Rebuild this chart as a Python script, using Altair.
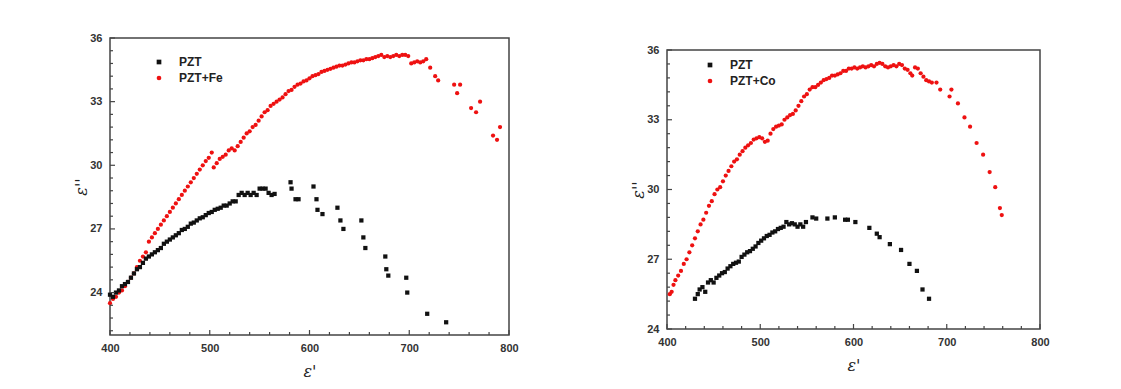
import altair as alt
import pandas as pd

# ---------------- data ----------------
fe_pzt_x = [400, 403, 406, 409, 412, 415, 418, 421, 424, 427, 430, 433, 436, 439, 442, 445, 448, 451, 454, 457,
            460, 463, 466, 469, 472, 475, 478, 481, 484, 487, 490, 493, 496, 499, 502, 505, 508, 511, 514, 517,
            520, 523, 526, 529, 532, 535, 538, 541, 544, 547, 550, 553, 556, 559, 562, 565,
            581, 582, 586, 589, 604, 607, 608, 613, 628, 631, 634, 652, 654, 656, 676, 677, 679, 697, 698, 718, 737]
fe_pzt_y = [23.9, 23.8, 24.0, 24.1, 24.3, 24.4, 24.5, 24.7, 24.9, 25.1, 25.2, 25.4, 25.6, 25.7, 25.8, 25.9, 26.0, 26.1, 26.3, 26.4,
            26.5, 26.6, 26.7, 26.8, 26.95, 27.0, 27.1, 27.25, 27.3, 27.4, 27.5, 27.55, 27.65, 27.75, 27.8, 27.9, 27.95, 28.0, 28.1, 28.1,
            28.2, 28.3, 28.3, 28.6, 28.7, 28.6, 28.7, 28.6, 28.7, 28.6, 28.9, 28.9, 28.9, 28.7, 28.6, 28.65,
            29.2, 28.9, 28.4, 28.4, 29.0, 28.4, 27.9, 27.7, 28.0, 27.4, 27.0, 27.4, 26.6, 26.1, 25.7, 25.1, 24.8, 24.7, 24.0, 23.0, 22.6]

fe_x = [400, 403, 406, 409, 412, 415, 418, 421, 424, 427, 430, 433, 436, 439, 442, 445, 448, 451, 454, 457,
        460, 463, 466, 469, 472, 475, 478, 481, 484, 487, 490, 493, 496, 499, 502, 504, 507, 510, 513, 516,
        519, 522, 525, 528, 531, 534, 537, 540, 543, 546, 549, 552, 555, 558, 561, 564, 567, 570, 573, 576,
        579, 582, 585, 588, 591, 594, 597, 600, 603, 606, 609, 612, 615, 618, 621, 624, 627, 630, 633, 636,
        639, 642, 645, 648, 651, 654, 657, 660, 663, 666, 669, 672, 675, 678, 681, 684, 687, 690, 693, 696,
        699, 702, 705, 708, 711, 714, 717,
        721, 726, 729, 745, 748, 751, 762, 767, 771, 784, 788, 791]
fe_y = [23.5, 23.7, 23.8, 24.0, 24.1, 24.3, 24.5, 24.7, 24.9, 25.2, 25.5, 25.7, 25.9, 26.4, 26.6, 26.8, 27.0, 27.2, 27.4, 27.6,
        27.8, 28.0, 28.2, 28.4, 28.6, 28.8, 29.0, 29.2, 29.4, 29.6, 29.8, 30.0, 30.2, 30.35, 30.6, 29.9, 30.1, 30.3, 30.4, 30.5,
        30.7, 30.8, 30.7, 30.9, 31.1, 31.3, 31.5, 31.6, 31.8, 31.9, 32.1, 32.3, 32.5, 32.6, 32.8, 32.9, 33.0, 33.1, 33.2, 33.35,
        33.5, 33.55, 33.7, 33.8, 33.85, 33.95, 34.0, 34.1, 34.2, 34.25, 34.3, 34.4, 34.45, 34.5, 34.55, 34.6, 34.65, 34.7, 34.7, 34.75,
        34.8, 34.85, 34.85, 34.9, 34.95, 34.95, 35.0, 35.0, 35.05, 35.1, 35.15, 35.2, 35.1, 35.15, 35.1, 35.15, 35.2, 35.15, 35.2, 35.2,
        35.15, 34.8, 34.85, 34.9, 34.85, 34.9, 35.0,
        34.6, 34.2, 34.0, 33.8, 33.4, 33.8, 32.7, 32.5, 33.0, 31.4, 31.2, 31.8]

co_pzt_x = [430, 433, 435, 438, 441, 444, 447, 450, 453, 456, 459, 462, 465, 468, 471, 474, 477, 480, 483, 486,
            489, 492, 495, 498, 501, 504, 507, 510, 513, 516, 519, 522, 525, 528, 531, 534, 537, 540, 543, 546, 549,
            556, 560, 572, 580, 591, 594, 602, 617, 625, 628, 639, 651, 660, 668, 674, 681]
co_pzt_y = [25.3, 25.5, 25.7, 25.8, 25.6, 26.0, 26.1, 26.0, 26.2, 26.3, 26.4, 26.45, 26.6, 26.7, 26.8, 26.85, 26.9, 27.1, 27.2, 27.3,
            27.35, 27.45, 27.55, 27.7, 27.8, 27.9, 28.0, 28.05, 28.15, 28.2, 28.3, 28.35, 28.4, 28.6, 28.5, 28.55, 28.5, 28.4, 28.5, 28.4, 28.6,
            28.8, 28.75, 28.75, 28.8, 28.7, 28.7, 28.6, 28.35, 28.1, 27.95, 27.65, 27.4, 26.8, 26.5, 25.7, 25.3]

co_x = [403, 405, 407, 409, 412, 415, 418, 421, 424, 427, 430, 433, 436, 439, 442, 445, 448, 451, 454, 457,
        460, 463, 466, 469, 472, 475, 478, 481, 484, 487, 490, 493, 496, 499, 502, 505, 508, 511, 514, 517,
        520, 523, 526, 529, 532, 535, 538, 541, 544, 547, 550, 553, 556, 559, 562, 565, 568, 571, 574, 577,
        580, 583, 586, 589, 592, 595, 598, 601, 604, 607, 610, 613, 616, 619, 622, 625, 628, 631, 634, 637,
        640, 643, 646, 649, 652, 655, 658, 661, 663, 666, 669, 672, 675, 678, 681, 684,
        689, 693, 703, 705, 712, 719, 725, 732, 739, 746, 752, 757, 759]
co_y = [25.5, 25.6, 25.9, 26.1, 26.3, 26.5, 26.8, 27.0, 27.3, 27.6, 27.9, 28.2, 28.5, 28.7, 29.0, 29.3, 29.5, 29.8, 30.0, 30.1,
        30.35, 30.6, 30.8, 31.0, 31.2, 31.3, 31.5, 31.65, 31.8, 31.9, 32.0, 32.15, 32.2, 32.25, 32.2, 32.05, 32.1, 32.4, 32.6, 32.7,
        32.75, 32.8, 33.0, 33.1, 33.2, 33.25, 33.4, 33.6, 33.8, 34.0, 34.1, 34.3, 34.4, 34.4, 34.5, 34.6, 34.7, 34.75, 34.8, 34.9,
        34.9, 34.95, 35.0, 35.1, 35.1, 35.2, 35.2, 35.25, 35.2, 35.25, 35.3, 35.25, 35.3, 35.35, 35.3, 35.4, 35.45, 35.4, 35.3, 35.25,
        35.3, 35.35, 35.3, 35.4, 35.35, 35.2, 35.15, 35.0, 34.9, 35.25, 35.2, 35.0, 34.85, 34.7, 34.65, 34.6,
        34.6, 34.3, 34.0, 34.3, 33.7, 33.1, 32.7, 32.0, 31.5, 30.75, 30.1, 29.2, 28.9]

left_series = ["PZT", "PZT+Fe"]
right_series = ["PZT", "PZT+Co"]
series_colors = ["#111111", "#ee1111"]
series_shapes = ["square", "circle"]

x_major = [400, 500, 600, 700, 800]
x_minor = [420, 440, 460, 480, 520, 540, 560, 580, 620, 640, 660, 680, 720, 740, 760, 780]
left_y_domain = [22, 36]
right_y_domain = [24, 36]
y_major = [24, 27, 30, 33, 36]
left_y_minor = [22.2, 22.8, 23.4, 24.6, 25.2, 25.8, 26.4, 27.6, 28.2, 28.8, 29.4,
                30.6, 31.2, 31.8, 32.4, 33.6, 34.2, 34.8, 35.4]
right_y_minor = [24.6, 25.2, 25.8, 26.4, 27.6, 28.2, 28.8, 29.4,
                 30.6, 31.2, 31.8, 32.4, 33.6, 34.2, 34.8, 35.4]

x_title = "ε'"
y_title = "ε''"

LABEL_FONT = "Liberation Sans"
FRAME = "#444444"


def make_df(xs1, ys1, xs2, ys2, names):
    d1 = pd.DataFrame({"x": xs1, "y": ys1, "series": names[0]})
    d2 = pd.DataFrame({"x": xs2, "y": ys2, "series": names[1]})
    return pd.concat([d1, d2], ignore_index=True)


def panel(df, names, ydom, yminor, W, H, legx, legy):
    xs = alt.Scale(domain=[400, 800], nice=False, zero=False)
    ys = alt.Scale(domain=ydom, nice=False, zero=False)
    xaxis = alt.Axis(values=x_major, ticks=False, domain=False, grid=False,
                     labelPadding=7, title=x_title, titlePadding=10, labelFlush=False)
    yaxis = alt.Axis(values=y_major, ticks=False, domain=False, grid=False,
                     labelPadding=8, title=y_title, titlePadding=0)
    legend = alt.Legend(orient="none", legendX=legx, legendY=legy, title=None,
                        labelFont=LABEL_FONT, labelFontWeight="bold", labelFontSize=12,
                        labelColor="#222", symbolSize=22, labelOffset=14, rowPadding=4,
                        padding=0)
    pts = alt.Chart(df).mark_point(filled=True, size=18, opacity=1).encode(
        x=alt.X("x:Q", scale=xs, axis=xaxis),
        y=alt.Y("y:Q", scale=ys, axis=yaxis),
        color=alt.Color("series:N", scale=alt.Scale(domain=names, range=series_colors), legend=legend),
        shape=alt.Shape("series:N", scale=alt.Scale(domain=names, range=series_shapes), legend=legend),
        order=alt.Order("series:N", sort="descending"),
    )

    def xticks(vals, size):
        d = pd.DataFrame({"v": vals})
        return alt.Chart(d).mark_rule(color=FRAME, strokeWidth=1.2).encode(
            x=alt.X("v:Q", scale=xs, axis=xaxis),
            y=alt.value(H), y2=alt.value(H - size))

    def yticks(vals, size):
        d = pd.DataFrame({"v": vals})
        return alt.Chart(d).mark_rule(color=FRAME, strokeWidth=1.2).encode(
            y=alt.Y("v:Q", scale=ys, axis=yaxis),
            x=alt.value(0), x2=alt.value(size))

    ch = alt.layer(pts, xticks(x_minor, 3), xticks(x_major, 5), yticks(yminor, 3), yticks(y_major, 5))
    return ch.properties(width=W, height=H)


left_df = make_df(fe_pzt_x, fe_pzt_y, fe_x, fe_y, left_series)
right_df = make_df(co_pzt_x, co_pzt_y, co_x, co_y, right_series)

left = panel(left_df, left_series, left_y_domain, left_y_minor, 399, 297, 43, 18)
right = panel(right_df, right_series, right_y_domain, right_y_minor, 373, 279, 37, 21)

# invisible spacer that pushes the right panel a few pixels lower
spacer = alt.Chart(pd.DataFrame({"a": [0]})).mark_point(opacity=0).encode(
    x=alt.value(0), y=alt.value(0)
).properties(width=373, height=1, view=alt.ViewBackground(strokeOpacity=0))

right_col = alt.vconcat(spacer, right, spacing=2)

chart = alt.hconcat(left, right_col, spacing=111).resolve_scale(
    color="independent", shape="independent", x="independent", y="independent"
).resolve_legend(color="independent", shape="independent").properties(
    padding={"left": 65, "top": 23, "right": 5, "bottom": 5}, background="white"
).configure_view(stroke=FRAME, strokeWidth=1.5).configure_axis(
    labelFont=LABEL_FONT, labelFontWeight="bold", labelFontSize=11, labelColor="#333",
    titleFont="DejaVu Serif", titleFontStyle="italic", titleFontWeight="normal",
    titleFontSize=16, titleColor="#222"
)

chart.save("out.html", embed_options={"renderer": "svg", "actions": False})
